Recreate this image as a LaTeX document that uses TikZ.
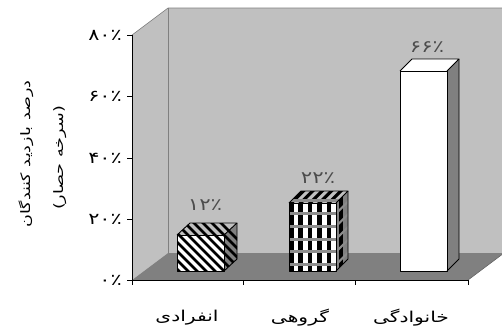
\documentclass[tikz,border=0pt]{standalone}
\usepackage{fontspec}
\newfontfamily\arabicfont[Script=Arabic]{DejaVu Sans}
\TeXXeTstate=1
\usepackage{tikz}
\definecolor{wallgray}{RGB}{192,192,192}
\definecolor{floorgray}{RGB}{128,128,128}

\begin{document}
\begin{tikzpicture}[x=1pt,y=1pt,yscale=-1,xscale=1,
  ticklabel/.style={font=\arabicfont\fontsize{16}{17}\selectfont,anchor=east,inner sep=0.75pt,xscale=1.3},
  barlabel/.style={font=\arabicfont\fontsize{17}{18}\selectfont,text=black!70,inner sep=0.75pt,xscale=1.25},
  catlabel/.style={font=\arabicfont\fontsize{15}{17}\selectfont,inner sep=0.75pt,xscale=1.35},
  axistitle/.style={font=\arabicfont\fontsize{13}{15}\selectfont,rotate=90,inner sep=0.75pt,xscale=1.35},
  barface/.style={draw=black,line width=0.9pt,line join=round}]
\useasboundingbox (0,0) rectangle (502,335);

%Walls and floor
\fill[wallgray] (132,35) -- (168,8) -- (168,253) -- (132,280) -- cycle;
\fill[wallgray] (168,8) rectangle (504,253);
\fill[floorgray] (132,280) -- (168,253) -- (504,253) -- (468,280) -- cycle;
\draw[floorgray,line width=0.6pt] (132,35) -- (168,8) -- (504,8);
\draw[floorgray,line width=0.6pt] (168,8) -- (168,253);
\draw[black!60,line width=0.6pt] (468,280) -- (504,253);

%Axes
\draw[line width=0.8pt] (132,35) -- (132,280) -- (468,280);
\foreach \y in {35,96,158,219,280}
  \draw[line width=0.8pt] (127,\y) -- (132,\y);
\foreach \x in {132,243,355,468}
  \draw[line width=0.8pt] (\x,280) -- (\x,285);

%Bar 1
\fill[white] (177,235) rectangle (224,271);
\fill[wallgray] (177,235) -- (190,223) -- (237,223) -- (224,235) -- cycle;
\fill[floorgray] (224,235) -- (237,223) -- (237,259) -- (224,271) -- cycle;
\begin{scope}
  \clip (177,271) -- (177,235) -- (190,223) -- (237,223) -- (237,259) -- (224,271) -- cycle;
  \foreach \c in {-110,-101,...,0}
    \draw[line width=2.8pt] (\c+150,150) -- (\c+300,300);
\end{scope}
\draw[barface] (177,235) rectangle (224,271);
\draw[barface] (177,235) -- (190,223) -- (237,223) -- (224,235);
\draw[barface] (237,223) -- (237,259) -- (224,271);

%Bar 2
\fill[white] (289,203) rectangle (336,271);
\fill[wallgray] (289,203) -- (301,191) -- (348,191) -- (336,203) -- cycle;
\fill[floorgray] (336,203) -- (348,191) -- (348,259) -- (336,271) -- cycle;
\begin{scope}
  \clip (289,203) rectangle (336,271);
  \foreach \x in {289,298.4,...,336}
    \fill[black] (\x,203) rectangle (\x+4.5,271);
  \foreach \y in {212,224.8,...,271}
    \fill[black!45] (289,\y) rectangle (336,\y+3);
\end{scope}
\begin{scope}
  \clip (289,203) -- (301,191) -- (348,191) -- (336,203) -- cycle;
  \foreach \x in {289,298.4,...,350}
    \fill[black] (\x,203) -- (\x+12,191) -- (\x+16.5,191) -- (\x+4.5,203) -- cycle;
  \fill[black!45] (289,199) rectangle (348,202);
\end{scope}
\begin{scope}
  \clip (336,203) -- (348,191) -- (348,259) -- (336,271) -- cycle;
  \fill[black] (339,180) rectangle (343,275);
  \foreach \y in {212,224.8,...,271}
    \fill[black!45] (336,\y) -- (348,\y-12) -- (348,\y-9) -- (336,\y+3) -- cycle;
\end{scope}
\draw[barface] (289,203) rectangle (336,271);
\draw[barface] (289,203) -- (301,191) -- (348,191) -- (336,203);
\draw[barface] (348,191) -- (348,259) -- (336,271);

%Bar 3
\fill[white] (400,71) rectangle (447,271);
\fill[white] (400,71) -- (412,59) -- (459,59) -- (447,71) -- cycle;
\fill[floorgray] (447,71) -- (459,59) -- (459,259) -- (447,271) -- cycle;
\draw[barface] (400,71) rectangle (447,271);
\draw[barface] (400,71) -- (412,59) -- (459,59) -- (447,71);
\draw[barface] (459,59) -- (459,259) -- (447,271);

% Text Node
\node[ticklabel] (t80) at (123,35) {۸۰٪};
\node[ticklabel] (t60) at (123,96) {۶۰٪};
\node[ticklabel] (t40) at (123,158) {۴۰٪};
\node[ticklabel] (t20) at (123,219) {۲۰٪};
\node[ticklabel] (t0) at (123,280) {۰٪};
% Text Node
\node[barlabel] (v1) at (205,205) {۱۲٪};
\node[barlabel] (v2) at (318,178) {۲۲٪};
\node[barlabel] (v3) at (427,47) {۶۶٪};
% Text Node
\node[catlabel] (c1) at (187,318) {\beginR انفرادی\endR};
\node[catlabel] (c2) at (300,318) {\beginR گروهی\endR};
\node[catlabel] (c3) at (411,318) {\beginR خانوادگی\endR};
% Text Node
\node[axistitle] (ytitle) at (26,154) {\beginR درصد بازدید کنندگان\endR};
\node[axistitle] (ysub) at (60,158) {\beginR (سرخه حصار)\endR};

\end{tikzpicture}
\end{document}
